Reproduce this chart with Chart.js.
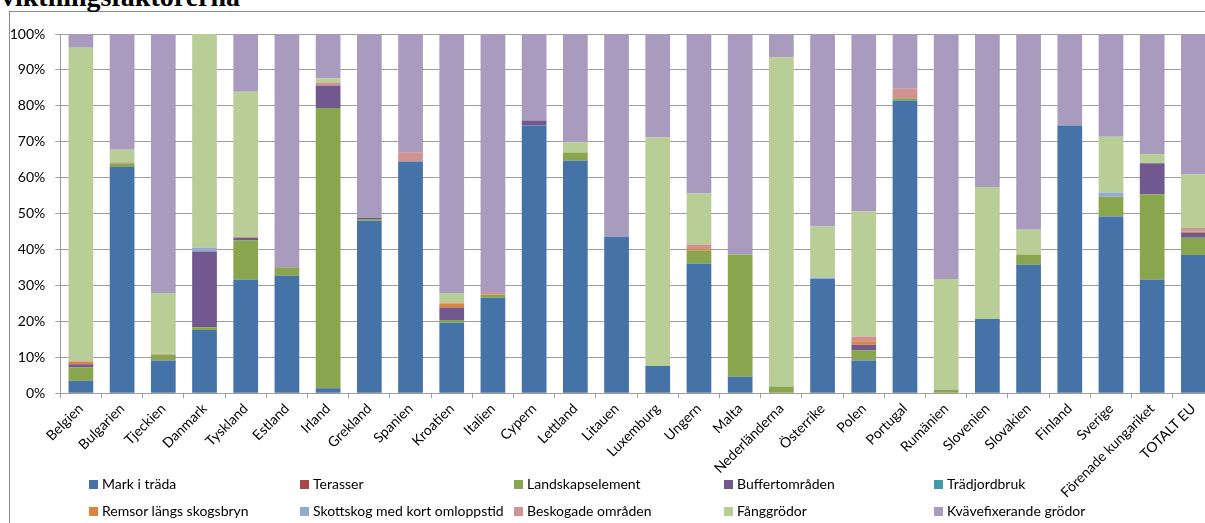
<!DOCTYPE html>
<html>
<head>
<meta charset="utf-8">
<script src="https://cdn.jsdelivr.net/npm/chart.js@4.4.0/dist/chart.umd.min.js"></script>
<style>
  html, body { margin: 0; padding: 0; width: 1205px; height: 523px; overflow: hidden; background: #fff; }
  #frame { position: absolute; left: 9px; top: 11px; width: 1300px; height: 600px; border: 1px solid #8a8a8a; box-sizing: border-box; }
  #title { position: absolute; left: 1px; top: -17px; font: bold 28px "Liberation Serif", "Times New Roman", serif; line-height: 28px; color: #000; white-space: nowrap; }
  #c { position: absolute; left: 0; top: 0; }
  .lg { position: absolute; font: 14px Lato, "Liberation Sans", sans-serif; color: #000; white-space: nowrap; line-height: 16px; }
  .lg i { display: inline-block; width: 9px; height: 9px; margin-right: 4px; vertical-align: 0px; }
</style>
</head>
<body>
<div id="frame"></div>
<div id="title">viktningsfaktorerna</div>
<canvas id="c" width="1230" height="523"></canvas>
<div id="legend"></div>
<script>
const categories = ["Belgien","Bulgarien","Tjeckien","Danmark","Tyskland","Estland","Irland","Grekland","Spanien","Kroatien","Italien","Cypern","Lettland","Litauen","Luxemburg","Ungern","Malta","Nederländerna","Österrike","Polen","Portugal","Rumänien","Slovenien","Slovakien","Finland","Sverige","Förenade kungariket","TOTALT EU"];

const seriesNames = ["Mark i träda","Terasser","Landskapselement","Buffertområden","Trädjordbruk","Remsor längs skogsbryn","Skottskog med kort omloppstid","Beskogade områden","Fånggrödor","Kvävefixerande grödor"];
const seriesColors = ["#4572A7","#AA4643","#89A54E","#71588F","#4198AF","#DB843D","#93A9CF","#D19392","#B9CD96","#A99BBD"];

const markITrada      = [3.5,63.0,9.1,17.6,31.7,32.7,1.4,48.0,64.5,19.7,26.6,74.5,64.7,43.6,7.6,36.1,4.6,0,31.9,9.1,81.5,0,20.7,35.8,74.5,49.2,31.7,38.5];
const terasser        = [0,0,0,0,0,0,0,0,0,0,0,0,0,0,0,0,0,0,0,0,0,0,0,0,0,0,0,0];
const landskap        = [3.7,1.0,1.7,0.8,10.8,2.4,78.0,0.5,0,0.7,0.8,0,2.3,0,0,3.6,34.0,1.9,0,2.8,0.6,0.9,0,2.8,0,5.6,23.7,4.8];
const buffert         = [0.9,0,0,21.1,0.7,0,6.3,0.3,0,3.5,0,1.4,0,0,0,0,0,0,0,1.6,0,0,0,0,0,0,8.6,1.3];
const tradjordbruk    = [0,0,0,0,0,0,0,0,0,0,0,0,0,0,0,0,0,0,0,0,0,0,0,0,0,0,0,0];
const remsor          = [0.6,0,0,0,0,0,0,0,0,1.1,0,0,0,0,0,0.4,0,0,0,1.0,0,0,0,0,0,0,0,0.3];
const skottskog       = [0,0,0,1.0,0,0,0,0,0,0,0,0,0,0,0,0,0,0,0.3,0,0,0,0,0,0,1.1,0,0.2];
const beskogade       = [0.2,0.3,0.2,0,0.3,0,0.8,0,2.6,0.2,0.8,0,0,0,0,1.3,0,0,0,1.3,2.8,0,0,0,0,0,0,0.9];
const fanggrodor      = [87.3,3.5,16.9,59.5,40.4,0,1.2,0,0,2.7,0,0,2.8,0,63.6,14.2,0,91.6,14.2,34.8,0,30.9,36.7,6.9,0,15.5,2.5,15.0];
const kvavefixerande  = [3.8,32.2,72.1,0,16.1,64.9,12.3,51.2,32.9,72.1,71.8,24.1,30.2,56.4,28.8,44.4,61.4,6.5,53.6,49.4,15.1,68.2,42.6,54.5,25.5,28.6,33.5,39.0];

const yTicks = ["0%","10%","20%","30%","40%","50%","60%","70%","80%","90%","100%"];

const seriesValues = [markITrada,terasser,landskap,buffert,tradjordbruk,remsor,skottskog,beskogade,fanggrodor,kvavefixerande];

const datasets = seriesNames.map((n,i)=>({
  label: n,
  data: seriesValues[i],
  backgroundColor: seriesColors[i],
  borderWidth: 0,
  categoryPercentage: 1.0,
  barPercentage: 0.6
}));

const font = { family: "Lato, 'Liberation Sans', sans-serif", size: 14 };
const gridColor = '#9e9e9e';

new Chart(document.getElementById('c'), {
  type: 'bar',
  data: { labels: categories, datasets },
  options: {
    responsive: false,
    animation: false,
    layout: { padding: { top: 34, left: 0, right: 16, bottom: 0 } },
    plugins: { legend: { display: false }, tooltip: { enabled: false }, title: { display: false } },
    scales: {
      x: {
        stacked: true,
        grid: { display: true, drawOnChartArea: false, drawTicks: true, tickLength: 5, color: gridColor, offset: true },
        border: { display: true, color: gridColor },
        ticks: { font, color: '#000', minRotation: 45, maxRotation: 45, padding: 2, autoSkip: false },
        afterFit: s => { s.height = 129.7; }
      },
      y: {
        stacked: true,
        min: 0, max: 100,
        grid: { color: gridColor, tickLength: 5 },
        border: { display: true, color: gridColor },
        ticks: { font, color: '#000', stepSize: 10, padding: 10, callback: (v) => yTicks[Math.round(v/10)] },
        afterFit: s => { s.width = 60.3; }
      }
    }
  }
});

// HTML legend built from series arrays (5 columns x 2 rows)
const legendCols = [89, 300, 514, 724, 934];
const legendRows = [476, 503];
const lg = document.getElementById('legend');
seriesNames.forEach((n,i)=>{
  const d = document.createElement('div');
  d.className = 'lg';
  d.style.left = legendCols[i % 5] + 'px';
  d.style.top = legendRows[Math.floor(i / 5)] + 'px';
  const b = document.createElement('i');
  b.style.background = seriesColors[i];
  d.appendChild(b);
  d.appendChild(document.createTextNode(n));
  lg.appendChild(d);
});
</script>
</body>
</html>
